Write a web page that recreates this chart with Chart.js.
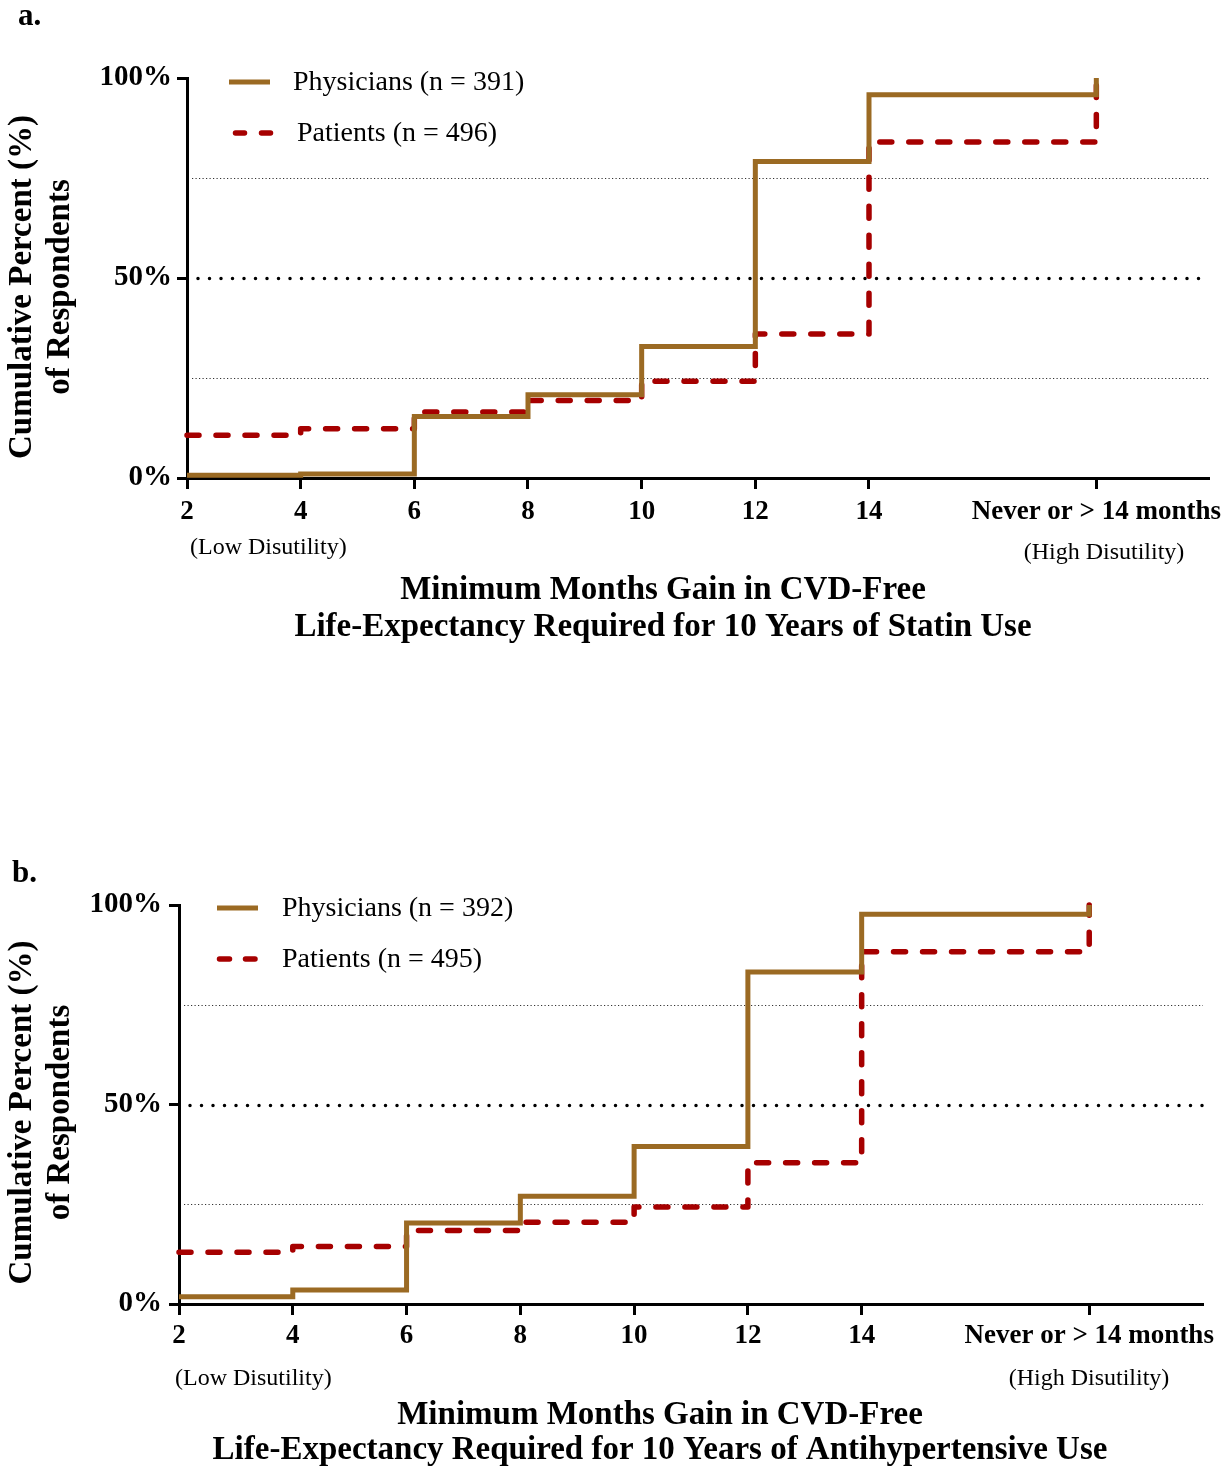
<!DOCTYPE html>
<html><head><meta charset="utf-8">
<script src="https://cdn.jsdelivr.net/npm/chart.js@4"></script>
<style>
html,body{margin:0;padding:0;background:#fff;}
body{width:1230px;height:1467px;position:relative;overflow:hidden;}
canvas{position:absolute;left:0;}
#cA{top:0}
#cB{top:730px}
</style></head><body>
<canvas id="cA" width="1230" height="730"></canvas>
<canvas id="cB" width="1230" height="737"></canvas>
<script>
// ---------------- data ----------------
const xValues = [2, 4, 6, 8, 10, 12, 14, 18];
const xTickLabels = ['2', '4', '6', '8', '10', '12', '14', 'Never or > 14 months'];
const yTickValues = [0, 50, 100];
const refLines = [25, 50, 75];

const statinPhysicians = [0.7, 1.0, 15.4, 20.8, 32.9, 79.1, 95.8, 100];
const statinPatients   = [10.7, 12.3, 16.5, 19.4, 24.2, 36.0, 84.0, 100];
const antihypPhysicians = [1.8, 3.5, 20.3, 27.0, 39.5, 83.2, 97.7, 100];
const antihypPatients   = [13.0, 14.4, 18.4, 20.5, 24.3, 35.4, 88.3, 100];

const statinLabels = ['Physicians (n = 391)', 'Patients (n = 496)'];
const antihypLabels = ['Physicians (n = 392)', 'Patients (n = 495)'];
const yTitle = ['Cumulative Percent (%)', 'of Respondents'];
const statinXTitle = ['Minimum Months Gain in CVD-Free', 'Life-Expectancy Required for 10 Years of Statin Use'];
const antihypXTitle = ['Minimum Months Gain in CVD-Free', 'Life-Expectancy Required for 10 Years of Antihypertensive Use'];
const lowLabel = '(Low Disutility)';
const highLabel = '(High Disutility)';

// ---------------- styling ----------------
const SERIF = "'Liberation Serif','Times New Roman',serif";
const BROWN = '#9B6A23';
const RED = '#A60000';

const decoPlugin = {
  id: 'deco',
  beforeDatasetsDraw(chart, args, o) {
    const {ctx, chartArea, scales: {y}} = chart;
    ctx.save();
    refLines.forEach(v => {
      const py = Math.round(y.getPixelForValue(v)) + 0.5;
      ctx.beginPath();
      if (v === 50) {
        ctx.lineWidth = 3.5; ctx.lineCap = 'round'; ctx.setLineDash([0, 11.5]); ctx.strokeStyle = '#000';
        ctx.moveTo(chartArea.left + 11, py);
      } else {
        ctx.lineWidth = 1; ctx.lineCap = 'butt'; ctx.setLineDash([1.2, 2.3]); ctx.strokeStyle = '#333';
        ctx.moveTo(chartArea.left + 5, py);
      }
      ctx.lineTo(chartArea.right, py);
      ctx.stroke();
    });
    ctx.restore();
  },
  afterDraw(chart, args, o) {
    const {ctx, chartArea} = chart;
    ctx.save();
    ctx.fillStyle = '#000';
    // panel letter
    ctx.font = 'bold 31px ' + SERIF;
    ctx.textAlign = 'left'; ctx.textBaseline = 'alphabetic';
    ctx.fillText(o.panel, o.panelX, o.panelY);
    // y-axis title (rotated)
    ctx.save();
    ctx.font = 'bold 33px ' + SERIF;
    ctx.textAlign = 'center'; ctx.textBaseline = 'middle';
    const cy = (chartArea.top + chartArea.bottom) / 2 + o.yTitleShift;
    yTitle.forEach((t, i) => {
      ctx.save();
      ctx.translate(o.yTitleX[i], cy);
      ctx.rotate(-Math.PI / 2);
      ctx.fillText(t, 0, 0);
      ctx.restore();
    });
    ctx.restore();
    // x-axis title
    ctx.font = 'bold 33px ' + SERIF;
    ctx.textAlign = 'center'; ctx.textBaseline = 'middle';
    o.xTitle.forEach((t, i) => ctx.fillText(t, o.xTitleX, o.xTitleY[i]));
    // disutility labels
    ctx.font = '24px ' + SERIF;
    ctx.textAlign = 'left';
    ctx.fillText(lowLabel, o.lowX, o.lowY);
    ctx.textAlign = 'center';
    ctx.fillText(highLabel, o.highX, o.highY);
    // legend
    chart.data.datasets.forEach((ds, i) => {
      const it = o.legend[i];
      ctx.beginPath();
      ctx.strokeStyle = ds.borderColor;
      ctx.lineWidth = ds.borderWidth;
      ctx.lineCap = ds.borderCapStyle || 'butt';
      ctx.setLineDash(it.dash || []);
      ctx.moveTo(it.x0, it.y); ctx.lineTo(it.x1, it.y);
      ctx.stroke();
      ctx.setLineDash([]);
      ctx.font = '28px ' + SERIF;
      ctx.fillStyle = '#000';
      ctx.textAlign = 'left'; ctx.textBaseline = 'middle';
      ctx.fillText(ds.label, it.tx, it.y + 1);
    });
    ctx.restore();
  }
};

function toPoints(vals) { return xValues.map((x, i) => ({x: x, y: vals[i]})); }

function makeChart(id, physVals, patVals, labels, lay, deco) {
  return new Chart(document.getElementById(id), {
    type: 'line',
    data: {
      datasets: [
        { label: labels[0], data: toPoints(physVals), stepped: true, borderColor: BROWN, borderWidth: 5,
          borderCapStyle: 'butt', borderJoinStyle: 'miter', pointRadius: 0, fill: false, clip: false },
        { label: labels[1], data: toPoints(patVals), stepped: true, borderColor: RED, borderWidth: 5.5,
          borderDash: [12, 17], borderCapStyle: 'round', borderJoinStyle: 'round', pointRadius: 0, fill: false, clip: false }
      ]
    },
    options: {
      responsive: false, animation: false, devicePixelRatio: 1,
      layout: { padding: { left: 0, right: lay.right, top: lay.top, bottom: lay.bottom } },
      plugins: { legend: { display: false }, tooltip: { enabled: false }, deco: deco },
      scales: {
        x: {
          type: 'linear', min: 2, max: 20,
          afterBuildTicks: s => { s.ticks = xValues.map(v => ({value: v})); },
          afterFit: s => { s.height = 60; },
          ticks: {
            autoSkip: false, maxRotation: 0, minRotation: 0, padding: lay.xTickPad, color: '#000',
            font: { family: SERIF, size: 27, weight: 'bold' },
            callback: v => { const i = xValues.indexOf(v); return i >= 0 ? xTickLabels[i] : ''; }
          },
          grid: { display: true, drawOnChartArea: false, drawTicks: true, tickLength: 11, tickWidth: 3, tickColor: '#000' },
          border: { display: true, color: '#000', width: 3 }
        },
        y: {
          type: 'linear', min: 0, max: 100,
          afterBuildTicks: s => { s.ticks = yTickValues.map(v => ({value: v})); },
          afterFit: s => { s.width = lay.left; },
          ticks: { padding: lay.yTickPad, color: '#000', font: { family: SERIF, size: 29, weight: 'bold' },
            callback: v => v + '%' },
          grid: { display: true, drawOnChartArea: false, drawTicks: true, tickLength: 10, tickWidth: 3, tickColor: '#000' },
          border: { display: true, color: '#000', width: 3 }
        }
      }
    },
    plugins: [decoPlugin]
  });
}

makeChart('cA', statinPhysicians, statinPatients, statinLabels,
  { left: 187, right: 18, top: 78, bottom: 730 - 478 - 60, xTickPad: 7, yTickPad: 5 },
  { panel: 'a.', panelX: 18, panelY: 25, xTitle: statinXTitle, xTitleX: 663, xTitleY: [590, 627],
    yTitleX: [22, 60], yTitleShift: 9,
    lowX: 190, lowY: 548, highX: 1104, highY: 553,
    legend: [ { x0: 229, x1: 270, y: 82, tx: 293 },
              { x0: 235.5, x1: 270.5, y: 133, tx: 297, dash: [9, 17] } ] });

makeChart('cB', antihypPhysicians, antihypPatients, antihypLabels,
  { left: 179, right: 27, top: 175, bottom: 737 - 574 - 60, xTickPad: 5, yTickPad: 7 },
  { panel: 'b.', panelX: 12, panelY: 152, xTitle: antihypXTitle, xTitleX: 660, xTitleY: [685, 720],
    yTitleX: [22, 60], yTitleShift: 8,
    lowX: 175, lowY: 649, highX: 1089, highY: 649,
    legend: [ { x0: 217, x1: 258, y: 178, tx: 282 },
              { x0: 219.5, x1: 255, y: 229, tx: 282, dash: [10, 16] } ] });
</script>
</body></html>
